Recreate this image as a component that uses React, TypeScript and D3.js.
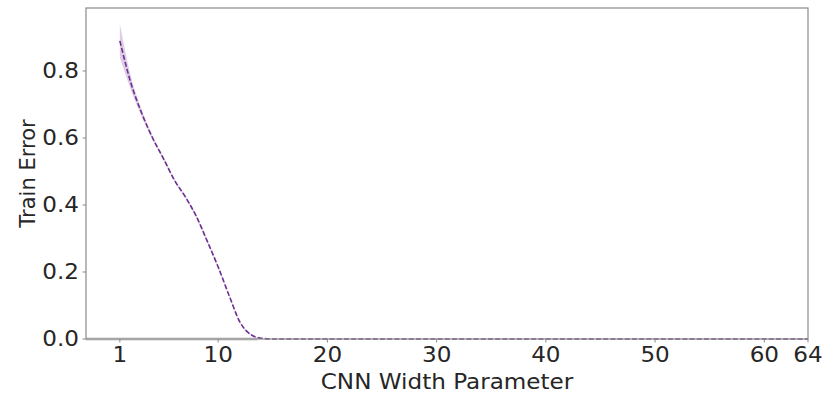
import React from "react";
import * as d3 from "d3";

// CNN width parameter (1..64) and mean train error with spread across runs
const widths: number[] = Array.from({ length: 64 }, (_, i) => i + 1);
const errorHead: number[] = [
  0.89, 0.765, 0.674, 0.6, 0.538, 0.474, 0.424, 0.366, 0.292, 0.215,
  0.13, 0.05, 0.013, 0.002,
];
const trainError: number[] = widths.map((_, i) => (i < errorHead.length ? errorHead[i] : 0));
const spreadHead: number[] = [0.05, 0.02, 0.01, 0.006, 0.005, 0.004, 0.004, 0.004, 0.004, 0.004, 0.003, 0.003, 0.002];
const errorSpread: number[] = widths.map((_, i) => (i < spreadHead.length ? spreadHead[i] : 0));

// light reference line along zero error, before the curve reaches it
const baselineX: number[] = [-2.1, 13.6];
const baselineY: number[] = [0, 0];

const xTicks: number[] = [1, 10, 20, 30, 40, 50, 60, 64];
const yTicks: number[] = [0, 0.2, 0.4, 0.6, 0.8];

const W = 823;
const H = 395;
const margin = { left: 86, right: 15, top: 8, bottom: 56 };
const FS = 21;
const STRETCH = 1.1;

export default function App() {
  const x = d3.scaleLinear().domain([-2.1, 64]).range([margin.left, W - margin.right]);
  const y = d3.scaleLinear().domain([0, 0.988]).range([H - margin.bottom, margin.top]);

  const line = d3
    .line<number>()
    .x((_, i) => x(widths[i]))
    .y((d) => y(d))
    .curve(d3.curveMonotoneX);

  const band = d3
    .area<number>()
    .x((_, i) => x(widths[i]))
    .y0((d, i) => y(Math.max(0, d - errorSpread[i])))
    .y1((d, i) => y(d + errorSpread[i]))
    .curve(d3.curveMonotoneX);

  const base = d3
    .line<number>()
    .x((d) => x(d))
    .y((_, i) => y(baselineY[i]));

  const x0 = x.range()[0];
  const x1 = x.range()[1];
  const y0 = y.range()[0];
  const y1 = y.range()[1];
  const font = "DejaVu Sans, sans-serif";
  const textColor = "#262626";
  const spine = "#8a8a8a";

  return (
    <svg
      width={W}
      height={H}
      style={{ position: "absolute", left: 0, top: 0, background: "#fff" }}
      fontFamily={font}
    >
      <path d={base(baselineX) ?? ""} fill="none" stroke="#cdcdcd" strokeWidth={3} />
      <path d={band(trainError) ?? ""} fill="#8e5aa8" fillOpacity={0.3} stroke="none" />
      <path
        d={line(trainError) ?? ""}
        fill="none"
        stroke="#6e3090"
        strokeWidth={1.6}
        strokeDasharray="5,2.2"
      />

      {/* spines */}
      <rect x={x0} y={y1} width={x1 - x0} height={y0 - y1} fill="none" stroke={spine} strokeWidth={1.2} />

      {/* y axis */}
      {yTicks.map((t) => (
        <g key={`y${t}`}>
          <line x1={x0 - 3.5} x2={x0} y1={y(t)} y2={y(t)} stroke={spine} strokeWidth={1} />
          <text
            transform={`translate(${x0 - 7},${y(t)}) scale(${STRETCH},1)`}
            textAnchor="end"
            dominantBaseline="central"
            fontSize={FS}
            fill={textColor}
          >
            {t.toFixed(1)}
          </text>
        </g>
      ))}

      {/* x axis */}
      {xTicks.map((t) => (
        <g key={`x${t}`}>
          <line x1={x(t)} x2={x(t)} y1={y0} y2={y0 + 3.5} stroke={spine} strokeWidth={1} />
          <text
            transform={`translate(${x(t)},${y0 + 23}) scale(${STRETCH},1)`}
            textAnchor="middle"
            fontSize={FS}
            fill={textColor}
          >
            {t}
          </text>
        </g>
      ))}

      <text
        transform={`translate(${(x0 + x1) / 2},${y0 + 50}) scale(${STRETCH},1)`}
        textAnchor="middle"
        fontSize={FS}
        fill={textColor}
      >
        CNN Width Parameter
      </text>
      <text
        transform={`translate(${28},${(y0 + y1) / 2}) rotate(-90)`}
        textAnchor="middle"
        dominantBaseline="central"
        fontSize={FS}
        fill={textColor}
      >
        Train Error
      </text>
    </svg>
  );
}
